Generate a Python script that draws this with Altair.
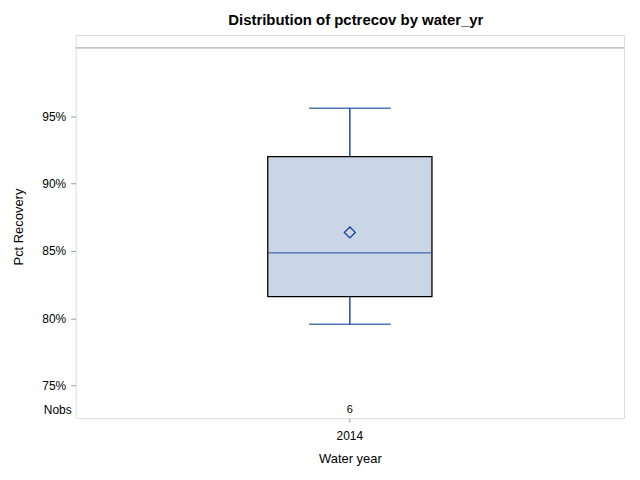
import altair as alt
import pandas as pd

# ---- data ----
water_yr = ["2014"]
q1 = [81.6]
median = [84.85]
q3 = [92.0]
whisk_lo = [79.55]
whisk_hi = [95.6]
mean = [86.37]
nobs = [6]
y_ticks = [75, 80, 85, 90, 95]

df = pd.DataFrame({
    "water_yr": water_yr, "q1": q1, "median": median, "q3": q3,
    "lo": whisk_lo, "hi": whisk_hi, "mean": mean,
    "nobs": [str(n) for n in nobs],
})

FONT = "Liberation Sans"
LINE = "#0d3d99"
FRAME = "#9a9a9a"

yscale = alt.Scale(domain=[72.57, 101.04], nice=False, zero=False)
xscale = alt.Scale(paddingInner=0, paddingOuter=0)

x_enc = alt.X("water_yr:N", scale=xscale, sort=water_yr,
              axis=alt.Axis(title="Water year", labelAngle=0, domain=False,
                            tickSize=4, tickColor=FRAME, labelFontSize=12,
                            labelPadding=8, titleFontSize=13, titleFontWeight="normal",
                            titlePadding=12, labelColor="black", titleColor="black",
                            labelFont=FONT, titleFont=FONT))

y_axis = alt.Axis(title="Pct Recovery", values=y_ticks, labelExpr="datum.value + '%'",
                  grid=False, domain=False, tickSize=5, tickColor=FRAME,
                  labelFontSize=12, labelPadding=5, titleFontSize=13,
                  titleFontWeight="normal", titleX=-50, labelColor="black",
                  titleColor="black", labelFont=FONT, titleFont=FONT)

base = alt.Chart(df)

box = base.mark_bar(size=165, fill="#cad5e5", stroke="black", strokeWidth=1.3).encode(
    x=x_enc,
    y=alt.Y("q1:Q", scale=yscale, axis=y_axis),
    y2="q3:Q",
)
whisk_low = base.mark_rule(color=LINE, strokeWidth=1.4).encode(
    x=x_enc, y=alt.Y("lo:Q", scale=yscale), y2="q1:Q")
whisk_high = base.mark_rule(color=LINE, strokeWidth=1.4).encode(
    x=x_enc, y=alt.Y("q3:Q", scale=yscale), y2="hi:Q")
cap_lo = base.mark_tick(color=LINE, size=82, thickness=1.4, orient="horizontal").encode(
    x=x_enc, y=alt.Y("lo:Q", scale=yscale))
cap_hi = base.mark_tick(color=LINE, size=82, thickness=1.4, orient="horizontal").encode(
    x=x_enc, y=alt.Y("hi:Q", scale=yscale))
med = base.mark_tick(color=LINE, size=165, thickness=1.4, orient="horizontal").encode(
    x=x_enc, y=alt.Y("median:Q", scale=yscale))
mean_pt = base.mark_point(shape="diamond", size=121, filled=False, color=LINE,
                          strokeWidth=1.3, opacity=1).encode(
    x=x_enc, y=alt.Y("mean:Q", scale=yscale))
nobs_txt = base.mark_text(font=FONT, fontSize=11, color="black", baseline="middle").encode(
    x=x_enc, y=alt.value(377), text="nobs:N")
nobs_lbl = base.mark_text(font=FONT, fontSize=12, color="black", align="right",
                          baseline="middle").encode(
    x=alt.value(-4), y=alt.value(377), text=alt.value("Nobs"))
strip = base.mark_rule(color=FRAME, strokeWidth=1).encode(
    x=alt.value(0), x2=alt.value(551), y=alt.value(13))

chart = alt.layer(
    strip, whisk_low, whisk_high, cap_lo, cap_hi, box, med, mean_pt, nobs_txt, nobs_lbl
).properties(
    width=551, height=385,
    title=alt.TitleParams("Distribution of pctrecov by water_yr", font=FONT,
                          fontSize=15, fontWeight="bold", color="black",
                          anchor="middle", dx=6, offset=7),
    autosize=alt.AutoSizeParams(type="none"),
    padding={"left": 68, "top": 26, "right": 8, "bottom": 50},
).configure_view(stroke=FRAME, strokeWidth=1).configure(background="white")

chart.save("out.html", embed_options={"renderer": "svg", "actions": False})
